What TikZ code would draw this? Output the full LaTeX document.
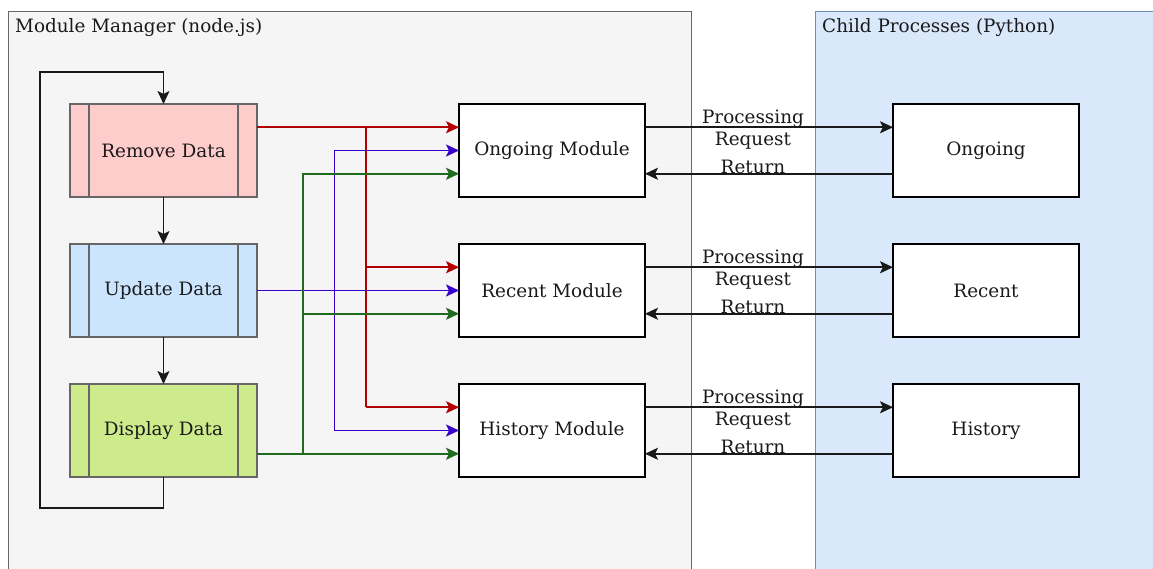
\documentclass[tikz,border=0pt]{standalone}
\usepackage{fontspec}
\setmainfont{DejaVu Serif}
\usetikzlibrary{arrows.meta,calc}

\definecolor{mgrfill}{HTML}{F5F5F5}
\definecolor{mgrline}{HTML}{666666}
\definecolor{childfill}{HTML}{DAE8FC}
\definecolor{childline}{HTML}{6C8EBF}
\definecolor{removefill}{HTML}{FFCCCC}
\definecolor{updatefill}{HTML}{CCE5FF}
\definecolor{displayfill}{HTML}{CDEB8B}
\definecolor{redflow}{HTML}{B20000}
\definecolor{blueflow}{HTML}{3700CC}
\definecolor{greenflow}{HTML}{1F6B1F}
\definecolor{ink}{HTML}{1A1A1A}

\tikzset{
  arr/.style={-{Stealth[length=13pt,width=12pt,inset=3pt]}},
  container/.style={anchor=north west, line width=1pt, inner sep=0pt, outer sep=0pt},
  title/.style={anchor=west, inner sep=0pt, text=ink},
  procbox/.style={draw=mgrline, line width=1.3pt, minimum width=187pt, minimum height=93pt,
                  inner sep=0pt, outer sep=0pt, text=ink},
  modbox/.style={draw=black, fill=white, line width=1.3pt, minimum width=186pt, minimum height=93pt,
                 inner sep=0pt, outer sep=0pt, text=ink},
  procline/.style={draw=mgrline, line width=1.3pt},
  flow/.style={line width=1.6pt, draw=black!90, arr},
  redl/.style={line width=1.6pt, draw=redflow},
  bluel/.style={line width=1.6pt, draw=blueflow},
  greenl/.style={line width=1.6pt, draw=greenflow},
  lbl/.style={align=center, inner sep=0pt, text=ink},
}

\begin{document}
\begin{tikzpicture}[x=1pt, y=-1pt, font=\fontsize{18.4}{22}\selectfont]
\useasboundingbox (0,0) rectangle (1153,568);
\clip (0,0) rectangle (1153,568);

% containers
\node[container, draw=mgrline, fill=mgrfill, minimum width=682.5pt, minimum height=600pt] (mgr) at (8.5,11) {};
\node[container, draw=childline, fill=childfill, minimum width=360pt, minimum height=600pt] (child) at (815.5,11) {};
\node[title] (mgrtitle) at (15,28) {Module Manager (node.js)};
\node[title] (childtitle) at (822,28) {Child Processes (Python)};

% data steps
\node[procbox, fill=removefill] (rem) at (163.5,150.5) {Remove Data};
\node[procbox, fill=updatefill] (upd) at (163.5,290.5) {Update Data};
\node[procbox, fill=displayfill] (dis) at (163.5,430.5) {Display Data};
\foreach \n in {rem,upd,dis} {
  \draw[procline] ([xshift=19pt]\n.north west) -- ([xshift=19pt]\n.south west);
  \draw[procline] ([xshift=-19pt]\n.north east) -- ([xshift=-19pt]\n.south east);
}

% modules and child processes
\node[modbox] (ong) at (552,150.5) {Ongoing Module};
\node[modbox] (rec) at (552,290.5) {Recent Module};
\node[modbox] (his) at (552,430.5) {History Module};
\node[modbox] (cong) at (986,150.5) {Ongoing};
\node[modbox] (crec) at (986,290.5) {Recent};
\node[modbox] (chis) at (986,430.5) {History};

% attachment points at quarters of the side edges
\foreach \m in {rem,upd,dis,ong,rec,his,cong,crec,chis} {
  \coordinate (\m-w1) at ($(\m.north west)!0.25!(\m.south west)$);
  \coordinate (\m-w2) at ($(\m.north west)!0.5!(\m.south west)$);
  \coordinate (\m-w3) at ($(\m.north west)!0.75!(\m.south west)$);
  \coordinate (\m-e1) at ($(\m.north east)!0.25!(\m.south east)$);
  \coordinate (\m-e2) at ($(\m.north east)!0.5!(\m.south east)$);
  \coordinate (\m-e3) at ($(\m.north east)!0.75!(\m.south east)$);
}

% step loop
\coordinate (loopbl) at (40,508);
\coordinate (looptl) at (40,72);
\draw[flow] (rem.south) -- (upd.north);
\draw[flow] (upd.south) -- (dis.north);
\draw[flow] (dis.south) |- (loopbl) -- (looptl) -| (rem.north);

% bus lines
\coordinate (rbus) at (366,0);
\coordinate (bbus) at (334.5,0);
\coordinate (gbus) at (303,0);

% remove -> all modules
\draw[redl, arr] (rem-e1) -- (ong-w1);
\draw[redl] (rbus |- rem-e1) -- (rbus |- his-w1);
\draw[redl, arr] (rbus |- rec-w1) -- (rec-w1);
\draw[redl, arr] (rbus |- his-w1) -- (his-w1);

% update -> all modules
\draw[bluel, arr] (upd-e2) -- (rec-w2);
\draw[bluel, arr] (bbus |- his-w2) -- (bbus |- ong-w2) -- (ong-w2);
\draw[bluel, arr] (bbus |- his-w2) -- (his-w2);

% display -> all modules
\draw[greenl, arr] (dis-e3) -- (his-w3);
\draw[greenl, arr] (gbus |- dis-e3) -- (gbus |- ong-w3) -- (ong-w3);
\draw[greenl, arr] (gbus |- rec-w3) -- (rec-w3);

% module <-> child process traffic
\foreach \m/\c/\y in {ong/cong/150.5, rec/crec/290.5, his/chis/430.5} {
  \draw[flow] (\m-e1) -- (\c-w1);
  \draw[flow] (\c-w3) -- (\m-e3);
  \node[lbl] at (753,\y-21) {Processing\\Request};
  \node[lbl] at (753,\y+16.5) {Return};
}
\end{tikzpicture}
\end{document}
